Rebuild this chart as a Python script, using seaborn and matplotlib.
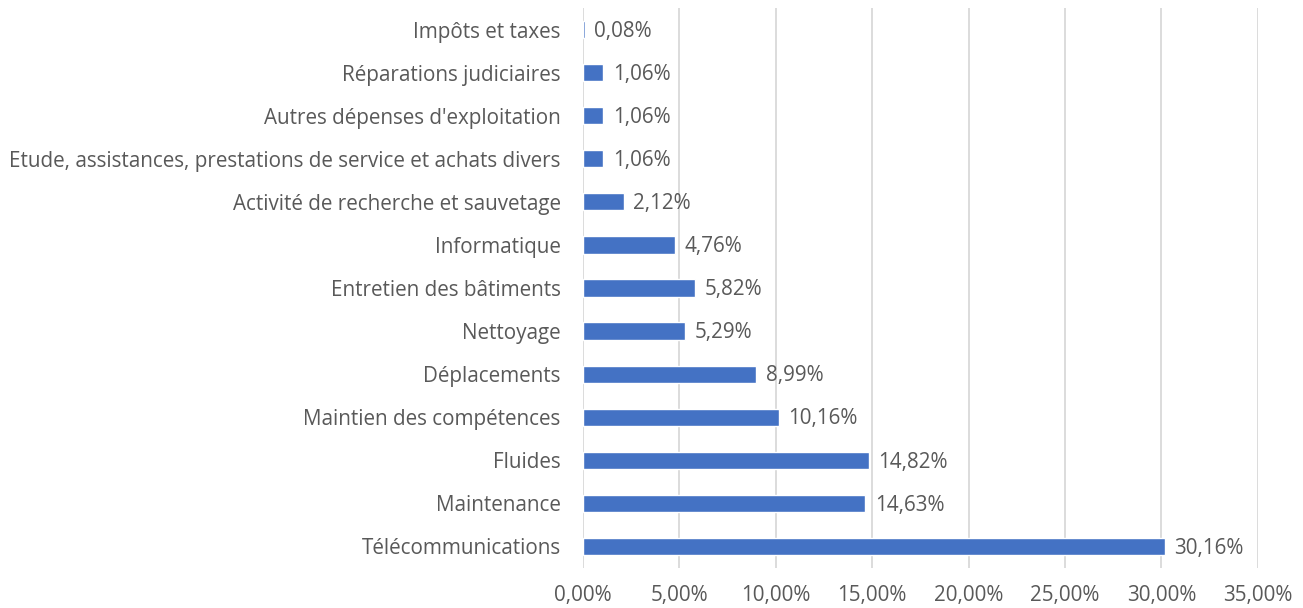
import matplotlib
matplotlib.use("Agg")
import matplotlib.pyplot as plt
import seaborn as sb
import pandas as pd

# Données (de haut en bas)
categories = [
    "Impôts et taxes",
    "Réparations judiciaires",
    "Autres dépenses d'exploitation",
    "Etude, assistances, prestations de service et achats divers",
    "Activité de recherche et sauvetage",
    "Informatique",
    "Entretien des bâtiments",
    "Nettoyage",
    "Déplacements",
    "Maintien des compétences",
    "Fluides",
    "Maintenance",
    "Télécommunications",
]
values = [0.08, 1.06, 1.06, 1.06, 2.12, 4.76, 5.82, 5.29, 8.99, 10.16, 14.82, 14.63, 30.16]
x_ticks = [0, 5, 10, 15, 20, 25, 30, 35]

df = pd.DataFrame({"cat": categories, "val": values})

sb.set_style("white")
plt.rcParams["font.family"] = ["Open Sans", "DejaVu Sans"]
text_color = "#595959"
fs = 14.9

fig = plt.figure(figsize=(13.03, 6.08), dpi=100)
ax = fig.add_axes([0.4474, 0.0658, 0.518, 0.921])

sb.barplot(ax=ax, data=df, x="val", y="cat", orient="h", color="#4472C4",
           width=0.4, saturation=1, zorder=3)

# Étiquettes de valeur
for i, v in enumerate(values):
    ax.text(v + 0.5, i + 0.04, f"{v:.2f}%".replace(".", ","), va="center", ha="left",
            fontsize=fs, color=text_color)

ax.set_xlim(0, 35)
ax.set_xticks(x_ticks)
ax.set_xticklabels([f"{t:.2f}%".replace(".", ",") for t in x_ticks])
ax.set_xlabel("")
ax.set_ylabel("")
ax.grid(axis="x", color="#d9d9d9", linewidth=1.3, zorder=0)
ax.grid(axis="y", visible=False)
for s in ax.spines.values():
    s.set_visible(False)
ax.tick_params(axis="both", length=0, labelsize=fs, labelcolor=text_color)
ax.tick_params(axis="y", pad=16)
ax.tick_params(axis="x", pad=12)

fig.savefig("out.png", dpi=100)
